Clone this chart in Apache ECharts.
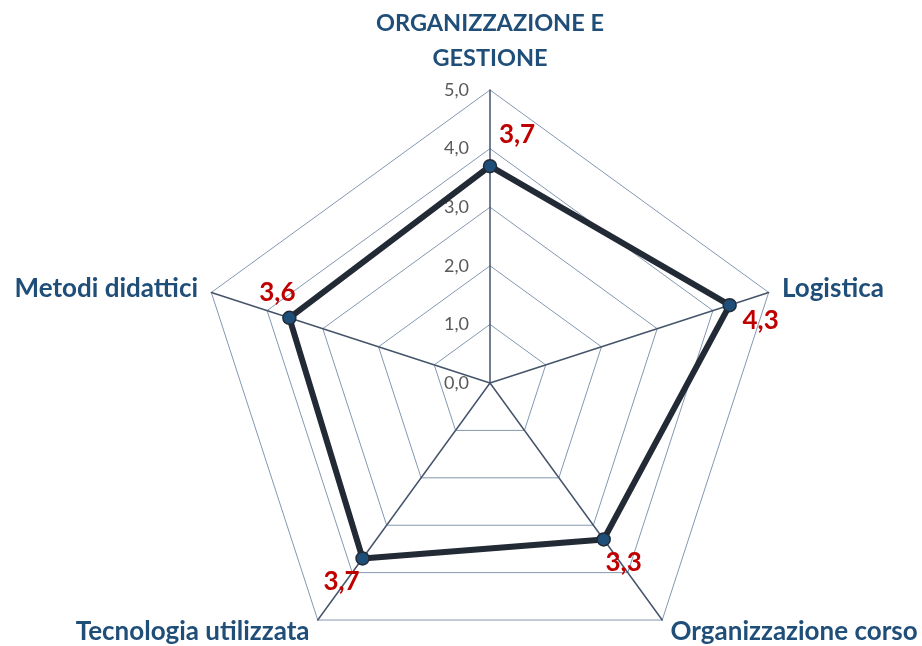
<!DOCTYPE html>
<html>
<head>
<meta charset="utf-8">
<script src="https://cdn.jsdelivr.net/npm/echarts@6/dist/echarts.min.js"></script>
<style>
  html, body { margin: 0; padding: 0; background: #fff; }
  #chart { width: 922px; height: 646px; }
</style>
</head>
<body>
<div id="chart"></div>
<script>
// indicators go counter-clockwise from the top in ECharts radar
const indicatorNames = ['ORGANIZZAZIONE E\nGESTIONE', 'Metodi didattici', 'Tecnologia utilizzata', 'Organizzazione corso', 'Logistica'];
const scores = [3.7, 3.6, 3.7, 3.3, 4.3];
const scaleMin = 0;
const scaleMax = 5;
const scaleStep = 1;

// where each red value label sits relative to its point (style only)
const labelOffsets = [[27, -32], [-12, -25], [-21, 23], [20, 23], [31, 15]];

const fmt = v => Number(v).toFixed(1).replace('.', ',');

const chart = echarts.init(document.getElementById('chart'));

const labelItems = scores.map((s, i) => ({
  value: scores.map((v, j) => (j === i ? v : '-')),
  symbol: 'circle',
  symbolSize: 2,
  itemStyle: { color: 'rgba(0,0,0,0)', borderWidth: 0 },
  lineStyle: { opacity: 0 },
  label: {
    show: true,
    position: 'inside',
    offset: labelOffsets[i],
    color: '#c00000',
    fontFamily: 'Lato',
    fontWeight: 'bold',
    fontSize: 26,
    formatter: p => {
      const v = Array.isArray(p.value) ? p.value[p.dimensionIndex] : p.value;
      return (v === '-' || v == null || isNaN(v)) ? '' : fmt(v);
    }
  }
}));

chart.setOption({
  animation: false,
  textStyle: { fontFamily: 'Lato' },
  radar: {
    center: [490, 383],
    radius: 293,
    startAngle: 90,
    splitNumber: 5,
    shape: 'polygon',
    nameGap: 14,
    axisName: {
      color: '#1f4e79',
      fontFamily: 'Lato',
      fontWeight: 'bold',
      fontSize: 26,
      lineHeight: 34,
      // the upper-case title is set a little smaller so its width matches
      formatter: name => name === name.toUpperCase()
        ? name.split('\n').map(t => '{cap|' + t + '}').join('\n')
        : name,
      rich: {
        cap: { fontSize: 23.5, fontWeight: 'bold', fontFamily: 'Lato', color: '#1f4e79', lineHeight: 35 }
      }
    },
    indicator: indicatorNames.map(n => ({ name: n, min: scaleMin, max: scaleMax })),
    axisLine: { lineStyle: { color: '#44546a', width: 1.5 } },
    splitLine: { lineStyle: { color: '#8497b0', width: 1 } },
    splitArea: { show: false },
    axisTick: { show: false },
    axisLabel: { show: false }
  },
  // value scale printed along the top axis
  grid: { left: 490, top: 90, width: 1, height: 293 },
  xAxis: { type: 'value', show: false },
  yAxis: {
    type: 'value',
    min: scaleMin,
    max: scaleMax,
    interval: scaleStep,
    axisLine: { show: false },
    axisTick: { show: false },
    splitLine: { show: false },
    axisLabel: {
      color: '#595959',
      fontFamily: 'Lato',
      fontSize: 18,
      margin: 21,
      formatter: fmt
    }
  },
  series: [{
    type: 'radar',
    data: [{
      value: scores,
      symbol: 'circle',
      symbolSize: 13,
      lineStyle: { color: '#222a35', width: 6 },
      itemStyle: { color: '#1f4e79', borderColor: '#222a35', borderWidth: 1.5 },
      label: { show: false }
    }].concat(labelItems)
  }]
});
</script>
</body>
</html>
